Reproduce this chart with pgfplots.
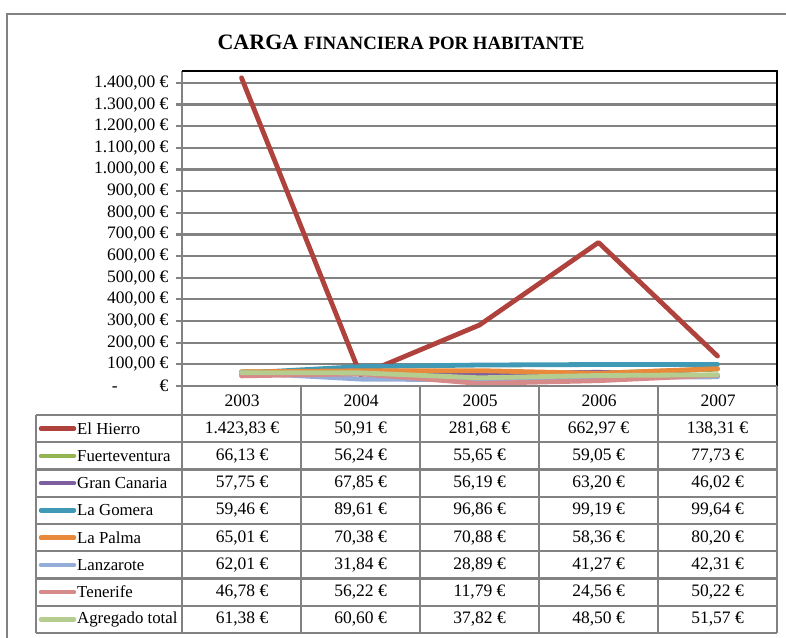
\documentclass[border=0pt]{standalone}
\usepackage{pgfplots}
\pgfplotsset{compat=1.18}
\usepackage{fontspec}
\setmainfont{Liberation Serif}
\definecolor{gridgray}{RGB}{130,130,130}
\definecolor{hierro}{RGB}{176,66,62}
\definecolor{fuert}{RGB}{146,181,80}
\definecolor{gran}{RGB}{125,95,160}
\definecolor{gomera}{RGB}{64,153,181}
\definecolor{palma}{RGB}{232,137,59}
\definecolor{lanz}{RGB}{147,172,216}
\definecolor{tene}{RGB}{214,138,138}
\definecolor{agreg}{RGB}{181,205,142}
\newcommand{\tfont}{\fontsize{17.5}{18}\selectfont}
\newcommand{\trow}[8]{%
  \pgfmathsetmacro\yy{637-415-27.25*(#1+0.5)}
  \draw[#2, line width=4.5pt, line cap=round] (41,\yy) -- (74,\yy);
  \node[anchor=west, font=\fontsize{16.8}{18}\selectfont, inner sep=0pt] at (77,\yy) {#3};
  \node[font=\tfont] at (242,\yy) {#4 €};
  \node[font=\tfont] at (360.5,\yy) {#5 €};
  \node[font=\tfont] at (479.5,\yy) {#6 €};
  \node[font=\tfont] at (598.5,\yy) {#7 €};
  \node[font=\tfont] at (717.5,\yy) {#8 €};
}
\begin{document}
\begin{tikzpicture}[x=1pt,y=1pt]
\path[use as bounding box] (0,0) rectangle (786,637);
% outer frame
\draw[gridgray, line width=2.2pt] (7,-5) -- (7,623) -- (795,623);
% title
\node at (401,595) {\bfseries\fontsize{22}{22}\selectfont CARGA \fontsize{18.8}{19}\selectfont FINANCIERA POR HABITANTE};
\begin{axis}[
  at={(182pt,251pt)}, anchor=south west,
  scale only axis, width=595pt, height=315pt,
  xmin=-0.5, xmax=4.5, ymin=0, ymax=1455,
  xtick=\empty,
  ytick={0,100,...,1400},
  yticklabels={{-\hspace{42pt}€},{100,00 €},{200,00 €},{300,00 €},{400,00 €},{500,00 €},{600,00 €},{700,00 €},{800,00 €},{900,00 €},{1.000,00 €},{1.100,00 €},{1.200,00 €},{1.300,00 €},{1.400,00 €}},
  yticklabel style={font=\tfont, xshift=-4pt},
  ymajorgrids, grid style={gridgray, line width=2.2pt},
  axis line style={draw=none},
  tick align=outside, ytick pos=left, major tick length=6pt,
  tick style={gridgray, line width=2.2pt},
  clip=false,
  every axis plot/.append style={line width=4.8pt, line join=round, line cap=round, mark=none},
]
\addplot[hierro] coordinates {(0,1423.83) (1,50.91) (2,281.68) (3,662.97) (4,138.31)};
\addplot[fuert] coordinates {(0,66.13) (1,56.24) (2,55.65) (3,59.05) (4,77.73)};
\addplot[gran] coordinates {(0,57.75) (1,67.85) (2,56.19) (3,63.20) (4,46.02)};
\addplot[gomera] coordinates {(0,59.46) (1,89.61) (2,96.86) (3,99.19) (4,99.64)};
\addplot[palma] coordinates {(0,65.01) (1,70.38) (2,70.88) (3,58.36) (4,80.20)};
\addplot[lanz] coordinates {(0,62.01) (1,31.84) (2,28.89) (3,41.27) (4,42.31)};
\addplot[tene] coordinates {(0,46.78) (1,56.22) (2,11.79) (3,24.56) (4,50.22)};
\addplot[agreg] coordinates {(0,61.38) (1,60.60) (2,37.82) (3,48.50) (4,51.57)};
\draw[gridgray, line width=2.2pt] (rel axis cs:0,0) -- (rel axis cs:0,1);
\draw[black, line width=1.8pt] (rel axis cs:0,1) -- (rel axis cs:1,1) -- (rel axis cs:1,0);
\end{axis}
% table grid
\begin{scope}[gridgray, line width=2.2pt]
  \draw (182,251) -- (777,251);
  \foreach \k in {0,...,8} {\draw (36,{222-27.25*\k}) -- (777,{222-27.25*\k});}
  \foreach \xx in {182,301,420,539,658,777} {\draw (\xx,251) -- (\xx,4);}
  \draw (36,222) -- (36,4);
\end{scope}
% year headers
\foreach \yr [count=\i from 0] in {2003,2004,2005,2006,2007} {
  \node[font=\tfont] at ({242+119*\i},236.5) {\yr};
}
\trow{0}{hierro}{El Hierro}{1.423,83}{50,91}{281,68}{662,97}{138,31}
\trow{1}{fuert}{Fuerteventura}{66,13}{56,24}{55,65}{59,05}{77,73}
\trow{2}{gran}{Gran Canaria}{57,75}{67,85}{56,19}{63,20}{46,02}
\trow{3}{gomera}{La Gomera}{59,46}{89,61}{96,86}{99,19}{99,64}
\trow{4}{palma}{La Palma}{65,01}{70,38}{70,88}{58,36}{80,20}
\trow{5}{lanz}{Lanzarote}{62,01}{31,84}{28,89}{41,27}{42,31}
\trow{6}{tene}{Tenerife}{46,78}{56,22}{11,79}{24,56}{50,22}
\trow{7}{agreg}{Agregado total}{61,38}{60,60}{37,82}{48,50}{51,57}
\end{tikzpicture}
\end{document}
